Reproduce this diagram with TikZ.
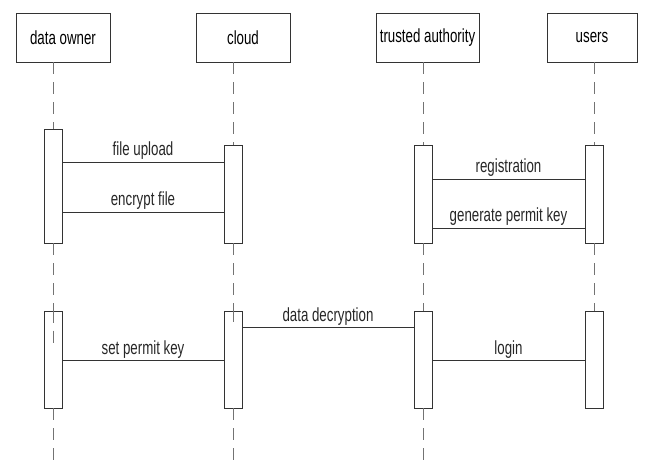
\documentclass[tikz,border=0pt]{standalone}
\usepackage{fontspec}
\setmainfont{Liberation Sans}[FakeStretch=0.7]
\usepackage{tikz}

\begin{document}
\begin{tikzpicture}[x=1pt, y=-1pt,
every edge/.style = {draw=black!80, line width=0.9pt},
 actor/.style args = {#1/#2}{%
      rectangle, draw=black!80, line width=0.9pt, fill=white, inner sep=0pt,
      minimum width=#1, minimum height=#2,
      font=\fontsize{19}{22}\selectfont},
 act/.style = {%
      rectangle, draw=black!80, line width=0.9pt, fill=white, inner sep=0pt,
      minimum width=18, minimum height=#1},
 life/.style = {draw=black!55, line width=0.8pt, dash pattern=on 12pt off 8pt},
 lbl/.style = {anchor=base, inner sep=0pt, yshift=6pt, text=black!85,
      font=\fontsize{19}{22}\selectfont}
                    ]
\useasboundingbox (0,0) rectangle (645,470);
% actors
\node(owner) [actor=94/49] at (63, 37.5) {data owner};
\node(cloud) [actor=94/49] at (243, 37.5) {cloud};
\node(ta) [actor=103/49] at (427.5, 37.5) {trusted authority};
\node(users) [actor=90/49] at (592, 37.5) {users};
%
\coordinate (endO) at (53, 463);
\coordinate (endC) at (233, 460);
\coordinate (endT) at (423, 460);
% message rows
\coordinate (r1) at (0, 162);
\coordinate (r2) at (0, 212);
\coordinate (r3) at (0, 179);
\coordinate (r4) at (0, 228);
\coordinate (r5) at (0, 327);
\coordinate (r6) at (0, 360);
% activations
\node(oa1) [act=114] at (53, 186) {};
\node(ca1) [act=98] at (233, 194) {};
\node(ta1) [act=98] at (423, 194) {};
\node(ua1) [act=98] at (594, 194) {};
\node(oa2) [act=97] at (53, 359.5) {};
\node(ca2) [act=97] at (233, 359.5) {};
\node(ta2) [act=97] at (423, 359.5) {};
\node(ua2) [act=97] at (594, 359.5) {};
% lifelines
\draw[life] (owner.south -| oa1) -- (oa1.north);
\draw[life] (cloud.south -| ca1) -- (ca1.north);
\draw[life] (ta.south -| ta1) -- (ta1.north);
\draw[life] (users.south -| ua1) -- (ua1.north);
\draw[life] (oa1.south) -- (oa2.north);
\draw[life] (ca1.south) -- (ca2.north);
\draw[life] (ta1.south) -- (ta2.north);
\draw[life] (ua1.south) -- (ua2.north);
\draw[life] (oa2.north) -- ++(0,34);
\draw[life] (ca2.north) -- ++(0,11);
\draw[life] (oa2.south) -- (endO);
\draw[life] (ca2.south) -- (endC);
\draw[life] (ta2.south) -- (endT);
% messages
\path (oa1.east |- r1) edge node[lbl] {file upload} (ca1.west |- r1);
\path (oa1.east |- r2) edge node[lbl] {encrypt file} (ca1.west |- r2);
\path (ta1.east |- r3) edge node[lbl] {registration} (ua1.west |- r3);
\path (ta1.east |- r4) edge node[lbl] {generate permit key} (ua1.west |- r4);
\path (ca2.east |- r5) edge node[lbl] {data decryption} (ta2.west |- r5);
\path (oa2.east |- r6) edge node[lbl] {set permit key} (ca2.west |- r6);
\path (ta2.east |- r6) edge node[lbl] {login} (ua2.west |- r6);
\end{tikzpicture}
\end{document}
